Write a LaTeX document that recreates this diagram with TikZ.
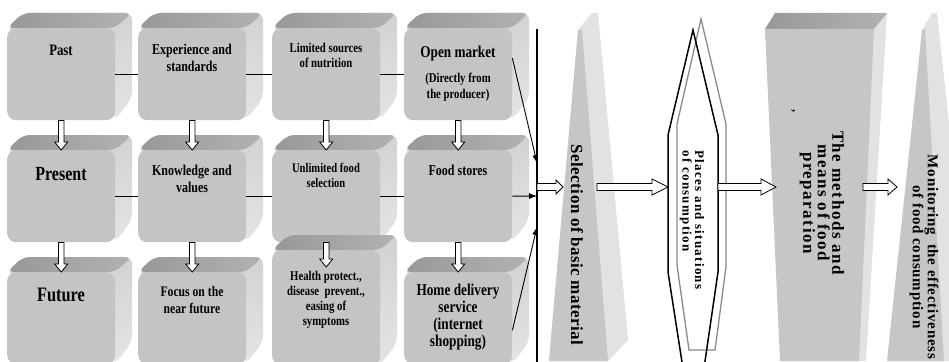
\documentclass[tikz,border=0pt]{standalone}
\usepackage{fontspec}
\setmainfont{Liberation Serif}
\newfontfamily\cf[FakeStretch=0.8]{Liberation Serif}
\usetikzlibrary{calc,arrows.meta}
\definecolor{frontc}{HTML}{C4C4C4}
\definecolor{topA}{HTML}{989898}
\definecolor{topB}{HTML}{B2B2B2}
\definecolor{sideA}{HTML}{D2D2D2}
\definecolor{sideB}{HTML}{E4E4E4}
\definecolor{wfront}{HTML}{C6C6C6}
\definecolor{wside}{HTML}{E2E2E2}
\definecolor{hexgrey}{HTML}{8A8A8A}
\newcommand\fsz[2]{\fontsize{#1pt}{#2pt}\selectfont}
\tikzset{
  front/.style={fill=frontc, rounded corners=9pt, minimum width=108pt, anchor=north west, inner sep=0pt, draw=none},
  btxt/.style={anchor=north, inner sep=0pt, align=center, font=\cf\bfseries},
  rtxt/.style={inner sep=0pt, rotate=-90, font=\bfseries},
  link/.style={line width=0.9pt},
  conn/.style={line width=0.9pt, -{Latex[length=8pt,width=6pt]}},
  barrow/.style={draw=black, fill=white, line width=0.8pt, line join=miter},
}
\newcommand\bevbox[4]{%
  \shade[top color=sideA, bottom color=sideB, rounded corners=7pt] (#2,#3) -- ({#2+16},{#3-15}) -- ({#2+125},{#3-15}) -- ({#2+125},{#3+#4-22}) -- ({#2+108},{#3+#4}) -- cycle;
  \shade[left color=topA, right color=topB, rounded corners=7pt] (#2,#3) -- ({#2+16},{#3-15}) -- ({#2+125},{#3-15}) -- ({#2+108},{#3}) -- cycle;
  \node[front, minimum height=#4pt] (#1) at (#2,#3) {};
}
% vertical block arrow (down)
\newcommand\darrow[2]{%
  \draw[barrow] let \p1=(#1), \p2=(#2) in
    (\x2-2.7pt,\y1) -- (\x2-2.7pt,\y2+8pt) -- (\x2-6.5pt,\y2+8pt) -- (\x2,\y2) -- (\x2+6.5pt,\y2+8pt) -- (\x2+2.7pt,\y2+8pt) -- (\x2+2.7pt,\y1) -- cycle;}
% horizontal block arrow (right): from, to, shaft half, head half, head length
\newcommand\rarrow[5]{%
  \draw[barrow] let \p1=(#1), \p2=(#2) in
    (\x1,\y1+#3) -- (\x2-#5,\y1+#3) -- (\x2-#5,\y1+#4) -- (\x2,\y1) -- (\x2-#5,\y1-#4) -- (\x2-#5,\y1-#3) -- (\x1,\y1-#3) -- cycle;}
\begin{document}
\begin{tikzpicture}[x=1pt,y=-1pt]
\clip (0,0) rectangle (949,361);
\fill[white] (0,0) rectangle (949,361);
% ---- boxes
\bevbox{past}{7}{28}{92}
\bevbox{exp}{138}{28}{92}
\bevbox{lim}{272}{28}{92}
\bevbox{om}{404}{28}{92}
\bevbox{pres}{7}{150}{92}
\bevbox{know}{138}{150}{92}
\bevbox{unl}{272}{150}{92}
\bevbox{fs}{404}{150}{92}
\bevbox{fut}{7}{272}{92}
\bevbox{foc}{138}{272}{92}
\bevbox{hp}{272}{250}{115}
\bevbox{hd}{404}{272}{92}
% ---- box texts
\node[btxt, font=\cf\bfseries\fsz{16}{18}] (pastT) at (61,45) {Past};
\node[btxt, font=\cf\bfseries\fsz{15}{17}] (expT) at (192,44) {Experience and\\standards};
\node[btxt, font=\cf\bfseries\fsz{13.4}{15}] (limT) at (326,43) {Limited sources\\of nutrition};
\node[btxt, font=\cf\bfseries\fsz{16.5}{18}] (omT) at (458,46) {Open market};
\node[btxt, font=\cf\bfseries\fsz{13.4}{16}] (omS) at (458,73) {(Directly from\\the producer)};
\node[btxt, font=\cf\bfseries\fsz{20}{22}] (presT) at (61,167) {Present};
\node[btxt, font=\cf\bfseries\fsz{15}{17}] (knowT) at (192,165) {Knowledge and\\values};
\node[btxt, font=\cf\bfseries\fsz{13.2}{15}] (unlT) at (326,163) {Unlimited food\\selection};
\node[btxt, font=\cf\bfseries\fsz{15}{17}] (fsT) at (458,165) {Food stores};
\node[btxt, font=\cf\bfseries\fsz{20.5}{22}] (futT) at (61,288) {Future};
\node[btxt, font=\cf\bfseries\fsz{14.6}{17}] (focT) at (192,286) {Focus on the\\near future};
\node[btxt, font=\cf\bfseries\fsz{13.4}{15}] (hpT) at (326,271) {Health protect.,\\disease\ \ prevent.,\\easing of\\symptoms};
\node[btxt, font=\cf\bfseries\fsz{16.6}{17}] (hdT) at (458,284) {Home delivery\\service\\(internet\\shopping)};
% ---- links between boxes
\draw[link] (past.east) -- (exp.west);
\draw[link] (exp.east) -- (lim.west);
\draw[link] (lim.east) -- (om.west);
\draw[link] (pres.east) -- (know.west);
\draw[link] (know.east) -- (unl.west);
\draw[link] (unl.east) -- (fs.west);
% ---- down block arrows
\darrow{past.south}{pres.north}
\darrow{exp.south}{know.north}
\darrow{lim.south}{unl.north}
\darrow{om.south}{fs.north}
\darrow{pres.south}{fut.north}
\darrow{know.south}{foc.north}
\darrow{unl.south}{[yshift=-17pt]hp.north}
\darrow{fs.south}{hd.north}
% ---- vertical bar and arrows into it
\coordinate (vt) at (537,29);
\coordinate (vb) at (537,362);
\coordinate (v1) at (537,163);
\coordinate (v2) at (537,196);
\coordinate (v3) at (537,227);
\draw[line width=1.6pt] (vt) -- (vb);
\draw[conn] ([yshift=16pt]om.east) -- (v1);
\draw[conn] (fs.east) -- (v2);
\draw[conn] ([yshift=-12pt]hd.east) -- (v3);
% ---- selection wedge
\fill[wside] (578,30) -- (592,13) -- (598,13) -- (628,340) -- (608,361) -- (549,361) -- cycle;
\fill[wfront] (578,30) -- (582,30) -- (608,361) -- (549,361) -- cycle;
\node[rtxt, font=\bfseries\fsz{17}{19}\addfontfeatures{LetterSpace=2.5}] (sel) at (577,245) {Selection of basic material};
% ---- hexagon
\draw[hexgrey, line width=1.3pt] (701,19) -- (726,124) -- (726,267) -- (715,350) -- (689,350) -- (677,265) -- (677,124) -- cycle;
\draw[black, line width=1.5pt] (693,30) -- (718,135) -- (718,272) -- (703,375) -- (684,375) -- (668,272) -- (668,135) -- cycle;
\node[rtxt, align=left, font=\bfseries\fsz{13}{12.5}\addfontfeatures{LetterSpace=10}] (places) at (692,220) {Places and situations\\of consumption};
% ---- methods prism
\fill[wside] (874,29) -- (887,13) -- (866,361) -- (858,361) -- cycle;
\shade[left color=topA, right color=topB] (765,29) -- (775,13) -- (887,13) -- (874,29) -- cycle;
\fill[wfront] (765,29) -- (874,29) -- (859,361) -- (780,361) -- cycle;
\node[rtxt, align=center, font=\bfseries\fsz{17}{14.5}\addfontfeatures{LetterSpace=9}] (meth) at (822,203) {The methods and\\means of food\\preparation};
\node[rtxt, font=\bfseries\fsz{12}{12}] (comma) at (793,111) {,};
% ---- monitoring wedge
\fill[wside] (922,30) -- (932,13) -- (937,13) -- (975,361) -- (944,361) -- cycle;
\fill[wfront] (922,30) -- (925,30) -- (944,361) -- (887,361) -- cycle;
\node[rtxt, align=center, font=\bfseries\fsz{15}{13.5}\addfontfeatures{LetterSpace=5}] (mon) at (924,257) {Monitoring\ \ the effectiveness\\of food consumption};
% ---- horizontal block arrows
\coordinate (s1) at (537,187);
\coordinate (selL) at (563,187);
\coordinate (selR) at (597,187);
\coordinate (hexL) at (668,187);
\coordinate (hexR) at (718,187);
\coordinate (methL) at (776,187);
\coordinate (methR) at (863,187);
\coordinate (monL) at (897,187);
\rarrow{s1}{selL}{3.5pt}{7pt}{7pt}
\rarrow{selR}{hexL}{3.5pt}{8pt}{16pt}
\rarrow{hexR}{methL}{3.5pt}{8pt}{15pt}
\rarrow{methR}{monL}{3.5pt}{8pt}{9pt}
\end{tikzpicture}
\end{document}
